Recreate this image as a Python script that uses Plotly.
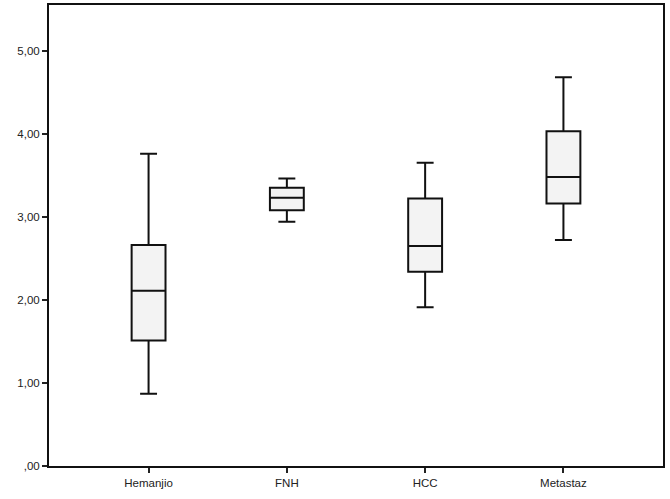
import plotly.graph_objects as go

groups = ["Hemanjio", "FNH", "HCC", "Metastaz"]
lower_whisker = [0.87, 2.94, 1.91, 2.72]
q1 = [1.51, 3.08, 2.34, 3.16]
median = [2.11, 3.23, 2.65, 3.48]
q3 = [2.66, 3.35, 3.22, 4.03]
upper_whisker = [3.76, 3.46, 3.65, 4.68]

y_ticks = [0, 1, 2, 3, 4, 5]
y_labels = [",00", "1,00", "2,00", "3,00", "4,00", "5,00"]

fig = go.Figure()
fig.add_trace(go.Box(
    x=list(range(len(groups))),
    q1=q1, median=median, q3=q3,
    lowerfence=lower_whisker, upperfence=upper_whisker,
    width=0.245,
    whiskerwidth=0.5,
    fillcolor="#f3f3f3",
    line=dict(color="#111111", width=2),
    boxpoints=False,
    hoverinfo="skip",
))

fig.update_layout(
    width=670, height=499,
    margin=dict(l=49, r=7, t=3, b=33),
    paper_bgcolor="white", plot_bgcolor="white",
    showlegend=False,
    font=dict(family="Liberation Sans, Arial, sans-serif", size=11.5, color="#222222"),
)
fig.update_xaxes(
    range=[-0.72, 3.72],
    tickmode="array", tickvals=list(range(len(groups))), ticktext=groups,
    ticks="outside", ticklen=5, tickwidth=1.5, tickcolor="#222222",
    showline=True, linecolor="#111111", linewidth=2, mirror=True,
    showgrid=False, zeroline=False,
)
fig.update_yaxes(
    range=[0, 5.55],
    tickmode="array", tickvals=y_ticks, ticktext=y_labels,
    ticks="outside", ticklen=5, tickwidth=2, tickcolor="#222222",
    showline=True, linecolor="#111111", linewidth=2, mirror=True,
    showgrid=False, zeroline=False,
)

# the page's default body margin would push the chart off by 8px
fig.write_html("out.html", config={"displayModeBar": False},
               post_script="document.body.style.margin='0';")
